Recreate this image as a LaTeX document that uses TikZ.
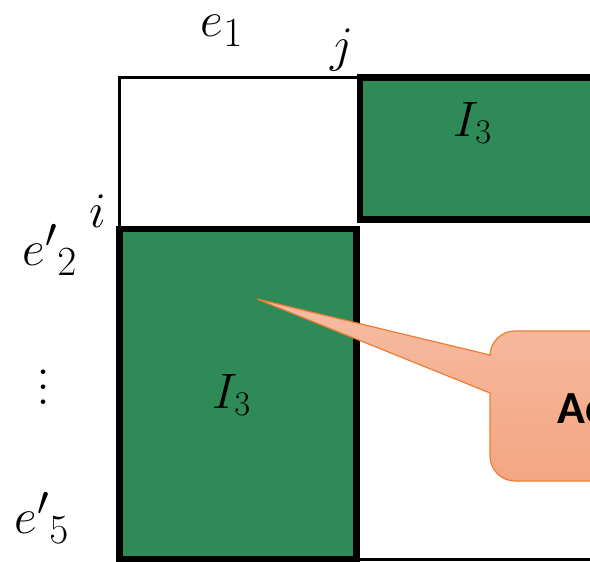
\documentclass[tikz,border=0pt]{standalone}
\usepackage{amsmath, amssymb}
\usepackage{fontspec}
\usepackage{xcolor}
\newfontfamily\calloutfont{Carlito}
\definecolor{blockgreen}{RGB}{46,139,87}
\definecolor{calloutedge}{RGB}{237,125,49}
\definecolor{callouttop}{RGB}{245,188,162}
\definecolor{calloutbottom}{RGB}{244,166,130}

\begin{document}
\begin{tikzpicture}[x=0.5pt, y=-0.5pt]
        % 스타일 정의
        \tikzset{thinframe/.style={line width=1.5pt}}
        \tikzset{greenblock/.style={fill=blockgreen, draw=black, line width=3.3pt}}
        \tikzset{mlabel/.style={inner sep=0pt, font=\fontsize{26}{30}\selectfont}}
        \tikzset{elabel/.style={inner sep=0pt, font=\fontsize{31}{36}\selectfont}}
        \tikzset{callout/.style={top color=callouttop, bottom color=calloutbottom, draw=calloutedge, line width=0.6pt}}

        % 그림 영역
        \useasboundingbox (0,0) rectangle (590,562);
        \clip (0,0) rectangle (590,562);

        % 1. 바깥 행렬 틀
        \draw[thinframe] (119,77.5) rectangle (660,559);

        % 2. 단위행렬 블록
        \draw[greenblock] (360,77.5) rectangle (660,219.5);
        \draw[greenblock] (119.5,229) rectangle (356.5,559);

        \node[mlabel] (topI) at (473,123) {$I_3$};
        \node[mlabel] (leftI) at (232,395) {$I_3$};

        % 3. 행/열 표시
        \node[elabel] (eone) at (222,31) {$e_1$};
        \node[mlabel] (jcol) at (342,50) {$j$};
        \node[mlabel] (irow) at (98,211) {$i$};
        \node[elabel] (etwo) at (50,250) {${e'}_2$};
        \node[inner sep=0pt, align=center, font=\fontsize{28}{7.5}\selectfont] (dots) at (43,387) {.\\.\\.};
        \node[elabel] (efive) at (42,518) {${e'}_5$};

        % 4. 말풍선
        \shade[callout] (490,355) -- (257,299) -- (490,393)
            [rounded corners=12.5pt] -- (490,481) -- (720,481) -- (720,331) -- (490,331)
            [sharp corners] -- cycle;
        \node[anchor=base west, inner sep=0pt, font=\calloutfont\bfseries\fontsize{23}{27}\selectfont] (note) at (557,423) {Ac};
    \end{tikzpicture}
\end{document}
